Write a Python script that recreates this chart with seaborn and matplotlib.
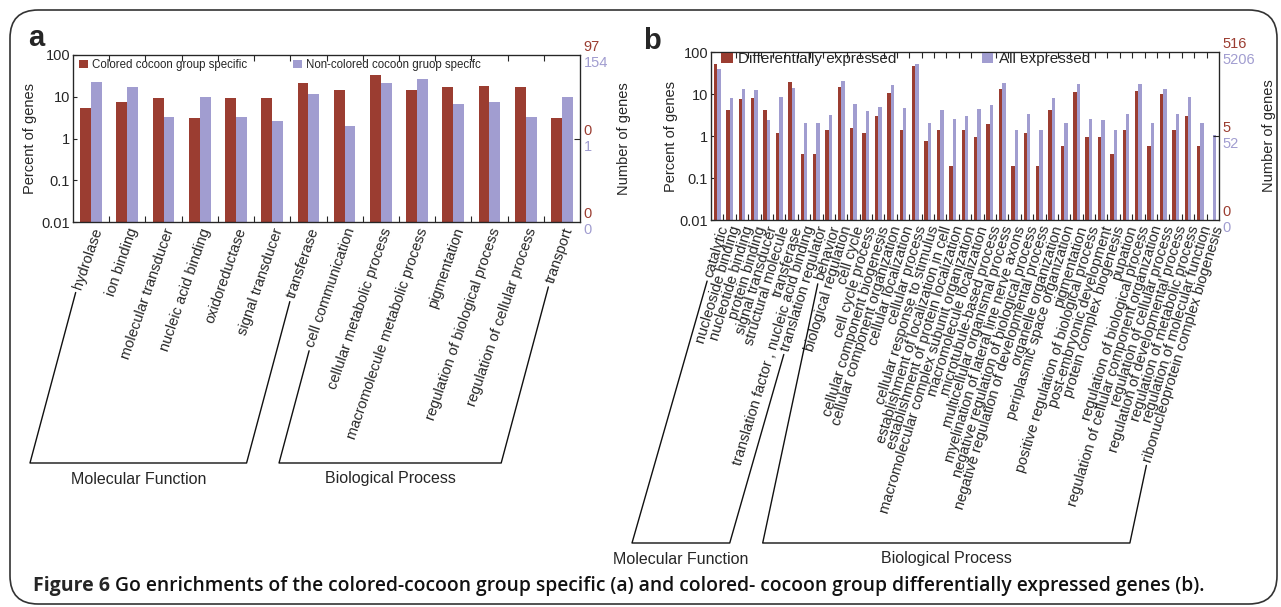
import numpy as np
import pandas as pd
import matplotlib
matplotlib.use("Agg")
import matplotlib.pyplot as plt
import seaborn as sns
from matplotlib.patches import FancyBboxPatch
from matplotlib.lines import Line2D
from matplotlib.ticker import NullLocator, FixedLocator

# ---------------- data ----------------
cats_a = ["hydrolase", "ion binding", "molecular transducer", "nucleic acid binding",
          "oxidoreductase", "signal transducer", "transferase", "cell communication",
          "cellular metabolic process", "macromolecule metabolic process", "pigmentation",
          "regulation of biological process", "regulation of cellular process", "transport"]
colored_a = [5.3, 7.5, 9.5, 3.1, 9.5, 9.5, 21.0, 14.7, 34.0, 14.7, 16.7, 17.9, 16.7, 3.1]
noncolored_a = [22.8, 16.7, 3.3, 10.0, 3.3, 2.6, 11.4, 2.0, 21.5, 25.9, 6.7, 7.3, 3.3, 10.0]
groups_a = ["Colored cocoon group specific", "Non-colored cocoon gruop specifc"]
mf_count_a = 7

cats_b = ["catalytic", "nucleoside binding", "nucleotide binding", "protein binding",
          "signal transducer", "structural molecule", "transferase",
          "translation factor , nucleic acid binding", "translation regulator",
          "behavior", "biological regulation", "cell cycle", "cell cycle process",
          "cellular component biogenesis", "cellular component organization",
          "cellular localization", "cellular process", "cellular response to stimulus",
          "establishment of localization in cell", "establishment of protein localization",
          "macromolecular complex subunit organization", "macromolecule localization",
          "microtubule-based process", "multicellular organismal process",
          "myelination of lateral line nerve axons", "negative regulation of biological process",
          "negative regulation of developmental process", "organelle organization",
          "periplasmic space organization", "pigmentation",
          "positive regulation of biological process", "post-embryonic development",
          "protein complex biogenesis", "pupation", "regulation of biological process",
          "regulation of cellular component organization", "regulation of cellular process",
          "regulation of developmental process", "regulation of metabolic process",
          "regulation of molecular function", "ribonucleoprotein complex biogenesis"]
diff_b = [52, 4.1, 7.6, 8.2, 4.1, 1.15, 19.3, 0.38, 0.38, 1.36, 14.4, 1.52, 1.15, 2.94,
          10.8, 1.36, 46, 0.76, 1.36, 0.19, 1.36, 0.95, 1.9, 13.4, 0.19, 1.15, 0.19, 4.1,
          0.57, 11.2, 0.95, 0.95, 0.38, 1.36, 12.0, 0.57, 10.2, 1.36, 2.94, 0.57, np.nan]
all_b = [39, 8.2, 13.0, 12.3, 2.35, 8.5, 13.9, 2.0, 2.0, 3.1, 20.8, 5.9, 3.9, 4.8,
         16.0, 4.7, 52, 2.08, 4.1, 2.6, 2.94, 4.3, 5.6, 18.3, 1.36, 3.4, 1.36, 8.2,
         2.08, 17.3, 2.6, 2.4, 1.4, 3.4, 17.7, 2.08, 13.4, 3.4, 8.5, 2.08, 1.08]
groups_b = ["Differentially expressed", "All expressed"]
mf_count_b = 9

y_ticks = [0.01, 0.1, 1, 10, 100]
y_ticklabels = ["0.01", "0.1", "1", "10", "100"]
right_levels = [100, 1, 0.01]
a_red_counts = ["97", "0", "0"]
a_purple_counts = ["154", "1", "0"]
b_red_counts = ["516", "5", "0"]
b_purple_counts = ["5206", "52", "0"]

RED = "#9B3D31"
PURPLE = "#A19DD0"

sns.set_style("ticks")
plt.rcParams["font.family"] = ["Liberation Sans", "DejaVu Sans"]

W, H = 1281, 607
fig = plt.figure(figsize=(W / 100, H / 100), dpi=100)


def px_axes(l, t, r, b):
    return fig.add_axes([l / W, 1 - b / H, (r - l) / W, (b - t) / H])


ax_a = px_axes(73, 55, 580, 222)
ax_b = px_axes(711, 52, 1219, 220)

TICKFS = 10.5


def draw_panel(ax, cats, v1, v2, names, width, rot, red_counts, purple_counts, leg_fs,
               leg_anchor, colspace, ylab_x, nlab_x):
    df = pd.DataFrame({
        "category": list(cats) * 2,
        "value": list(v1) + list(v2),
        "group": [names[0]] * len(cats) + [names[1]] * len(cats),
    })
    sns.barplot(data=df, x="category", y="value", hue="group", order=cats,
                hue_order=names, palette=[RED, PURPLE], width=width, saturation=1,
                errorbar=None, linewidth=0, ax=ax)
    ax.set_yscale("log")
    ax.set_ylim(0.01, 100)
    n = len(cats)
    ax.set_xlim(-0.5, n - 0.5)
    ax.yaxis.set_major_locator(FixedLocator(y_ticks))
    ax.set_yticklabels(y_ticklabels, fontsize=TICKFS)
    ax.yaxis.set_minor_locator(NullLocator())
    ax.tick_params(axis="y", direction="in", length=3, width=0.8, pad=2)
    ax.set_xticks(range(n))
    ax.set_xticklabels(cats, rotation=rot, ha="right", va="top",
                       rotation_mode="anchor", fontsize=TICKFS)
    ax.set_xticks(np.arange(n - 1) + 0.5, minor=True)
    ax.tick_params(axis="x", which="major", length=0, pad=3)
    ax.tick_params(axis="x", which="minor", direction="in", length=4, width=0.8,
                   top=True, bottom=True)
    ax.set_xlabel("")
    ax.set_ylabel("Percent of genes", fontsize=TICKFS)
    ax.yaxis.set_label_coords(ylab_x, 0.5)
    for sp in ax.spines.values():
        sp.set_linewidth(0.9)
        sp.set_color("#222222")
        sp.set_visible(True)
    handles, labels = ax.get_legend_handles_labels()
    ax.legend(handles, labels, ncol=2, loc="upper left", bbox_to_anchor=leg_anchor,
              frameon=False, fontsize=leg_fs, handlelength=0.75, handleheight=0.75,
              handletextpad=0.35, columnspacing=colspace, borderaxespad=0,
              borderpad=0)
    ax2 = ax.twinx()
    ax2.set_yscale("log")
    ax2.set_ylim(0.01, 100)
    ax2.yaxis.set_major_locator(FixedLocator([1]))
    ax2.yaxis.set_minor_locator(NullLocator())
    ax2.set_yticklabels([""])
    ax2.tick_params(axis="y", direction="in", length=4, width=0.8)
    ax2.set_ylabel("Number of genes", fontsize=TICKFS)
    ax2.yaxis.set_label_coords(nlab_x, 0.5)
    for lev, r, p in zip(right_levels, red_counts, purple_counts):
        ax.annotate(r, xy=(1, lev), xycoords=("axes fraction", "data"),
                    xytext=(2.5, 5.5), textcoords="offset points", color=RED,
                    ha="left", va="center", fontsize=TICKFS, annotation_clip=False)
        ax.annotate(p, xy=(1, lev), xycoords=("axes fraction", "data"),
                    xytext=(2.5, -6), textcoords="offset points", color=PURPLE,
                    ha="left", va="center", fontsize=TICKFS, annotation_clip=False)


ROT_A, ROT_B = 71, 73
draw_panel(ax_a, cats_a, colored_a, noncolored_a, groups_a, 0.6, ROT_A, a_red_counts,
           a_purple_counts, 8.3, (0.012, 0.975), 4.0, -0.071, 1.073)
draw_panel(ax_b, cats_b, diff_b, all_b, groups_b, 0.55, ROT_B, b_red_counts,
           b_purple_counts, 11, (0.02, 1.0), 5.6, -0.065, 1.085)

fig.text(36 / W, 1 - 38 / H, "a", fontsize=21, fontweight="bold", ha="center", va="center")
fig.text(652 / W, 1 - 41 / H, "b", fontsize=21, fontweight="bold", ha="center", va="center")

# border
fig.patches.append(FancyBboxPatch((10 / W, 3 / H), (1277 - 10) / W, (597 - 3) / H,
                                  boxstyle="round,pad=0,rounding_size=0.022",
                                  transform=fig.transFigure, fill=False,
                                  edgecolor="#333333", linewidth=1.2,
                                  mutation_aspect=W / H))

fig.canvas.draw()
renderer = fig.canvas.get_renderer()
inv = fig.transFigure.inverted()


def label_start(t, rot):
    th = np.deg2rad(rot)
    c, s = np.cos(th), np.sin(th)
    det = c * c - s * s
    bb = t.get_window_extent(renderer)
    Wd, Ht = bb.width, bb.height
    L = (Wd * c - Ht * s) / det
    Hh = (Ht * c - Wd * s) / det
    ax_x = bb.x1 - Hh * s
    ax_y = bb.y1
    lx = ax_x - L * c + (Hh / 2) * s
    ly = ax_y - L * s - (Hh / 2) * c
    g = 4
    return lx - g * c, ly - g * s


def line_to_base(pt, ybase, ang):
    th = np.deg2rad(ang)
    dy = pt[1] - ybase
    return pt[0] - dy / np.tan(th), ybase


def bracket(ax, i0, i1, ybase_px, text, rot, ang):
    labs = ax.get_xticklabels()
    p_top0 = label_start(labs[i0], rot)
    p_top1 = label_start(labs[i1], rot)
    yb = H - ybase_px
    p_b0 = line_to_base(p_top0, yb, ang)
    p_b1 = line_to_base(p_top1, yb, ang)
    pts = np.array([p_top0, p_b0, p_b1, p_top1])
    f = inv.transform(pts)
    fig.lines.append(Line2D(f[:, 0], f[:, 1], transform=fig.transFigure,
                            color="#111111", linewidth=1.0))
    mx = (p_b0[0] + p_b1[0]) / 2
    fm = inv.transform([[mx, yb - 16]])[0]
    fig.text(fm[0], fm[1], text, fontsize=11.5, ha="center", va="center")


bracket(ax_a, 0, mf_count_a - 1, 463, "Molecular Function", ROT_A, 75)
bracket(ax_a, mf_count_a, len(cats_a) - 1, 463, "Biological Process", ROT_A, 75)
bracket(ax_b, 0, mf_count_b - 1, 543, "Molecular Function", ROT_B, 74)
bracket(ax_b, mf_count_b, len(cats_b) - 1, 543, "Biological Process", ROT_B, 78)

# caption
cap1 = fig.text(33 / W, 1 - 586 / H, "Figure 6", fontsize=14.0, fontweight="bold",
                family=["Open Sans", "DejaVu Sans"], ha="left", va="center")
fig.canvas.draw()
bb = cap1.get_window_extent(renderer)
fx = inv.transform([[bb.x1 + 5, 0]])[0][0]
fig.text(fx, 1 - 586 / H,
         "Go enrichments of the colored-cocoon group specific (a) and colored- cocoon group differentially expressed genes (b).",
         fontsize=13.9, fontweight="semibold", family=["Open Sans", "DejaVu Sans"],
         ha="left", va="center", color="#111111")

fig.savefig("out.png", dpi=100)
